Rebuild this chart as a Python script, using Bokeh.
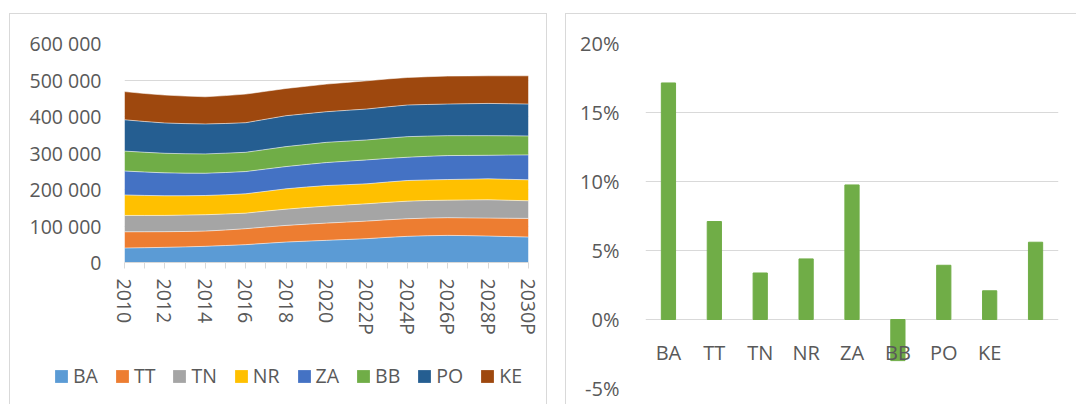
from bokeh.plotting import figure
from bokeh.models import (ColumnDataSource, Range1d, FixedTicker, Legend, LegendItem,
                          NumeralTickFormatter)
from bokeh.core.properties import value
from bokeh.embed import file_html
from bokeh.resources import INLINE

# ---------------- data ----------------
years = ["2010", "2011", "2012", "2013", "2014", "2015", "2016", "2017", "2018", "2019",
         "2020", "2021", "2022P", "2023P", "2024P", "2025P", "2026P", "2027P", "2028P",
         "2029P", "2030P"]
regions = ["BA", "TT", "TN", "NR", "ZA", "BB", "PO", "KE"]

BA = [39600, 40500, 41500, 42800, 44300, 46500, 48900, 52500, 56000, 58500, 60700,
      63000, 65300, 68800, 71600, 73300, 74300, 73600, 72400, 71000, 69700]
TT = [44500, 43700, 42900, 42200, 41700, 42500, 43700, 44700, 45600, 46500, 47200,
      47700, 48100, 48100, 48300, 48300, 48400, 48600, 49200, 50200, 51100]
TN = [44800, 44700, 44600, 44800, 44900, 43800, 42600, 43600, 44600, 45500, 46500,
      46900, 47500, 47800, 48100, 48200, 48100, 49200, 50200, 49300, 48300]
NR = [56200, 54900, 53800, 53100, 52700, 52700, 53000, 54200, 55700, 56200, 56500,
      55600, 54700, 55600, 56600, 56400, 56500, 56900, 57400, 57400, 57400]
ZA = [65500, 64100, 62800, 61900, 60900, 61000, 61000, 61000, 60900, 61800, 62900,
      64300, 65500, 64700, 63700, 64700, 65600, 65100, 64500, 66400, 68300]
BB = [54600, 54100, 53600, 53200, 53000, 53000, 52700, 53700, 54700, 55000, 55400,
      55000, 54700, 55500, 56500, 55400, 54600, 54100, 53800, 52800, 51900]
PO = [85800, 84300, 83000, 82500, 82000, 81400, 81100, 82900, 84700, 84200, 83900,
      84300, 84700, 85800, 86600, 86700, 86600, 87500, 88300, 87900, 87400]
KE = [77200, 76700, 76500, 75500, 74500, 76400, 78400, 76500, 74600, 75100, 75700,
      76500, 77300, 76500, 75400, 76000, 76600, 76200, 75700, 76500, 77400]

y_ticks = [0, 100000, 200000, 300000, 400000, 500000, 600000]

growth_labels = ["BA", "TT", "TN", "NR", "ZA", "BB", "PO", "KE", ""]
growth = [0.1714, 0.0710, 0.0337, 0.0439, 0.0975, -0.0298, 0.0393, 0.0208, 0.0560]
pct_ticks = [-0.05, 0.0, 0.05, 0.10, 0.15, 0.20]

# ---------------- styles ----------------
colors = ["#5B9BD5", "#ED7D31", "#A5A5A5", "#FFC000", "#4472C4", "#70AD47", "#255E91", "#9E480E"]
FONT = "Open Sans"
TXT = "#595959"
GRID = "#D9D9D9"
BORDER = "1px solid #D9D9D9"

# ---------------- left: stacked area ----------------
series = {"BA": BA, "TT": TT, "TN": TN, "NR": NR, "ZA": ZA, "BB": BB, "PO": PO, "KE": KE}
data = {"x": list(range(len(years)))}
data.update(series)
src = ColumnDataSource(data)

p1 = figure(width=538, height=391, output_backend="svg", toolbar_location=None,
            x_range=Range1d(0, len(years) - 1), y_range=Range1d(0, 600000),
            min_border_left=114, min_border_right=20, min_border_top=29,
            min_border_bottom=143)
p1.styles = {"position": "absolute", "left": "9px", "top": "13px",
             "border-top": BORDER, "border-left": BORDER, "border-right": BORDER}
p1.outline_line_color = None

p1.varea_stack(stackers=regions, x="x", color=colors, source=src)
p1.vline_stack(stackers=regions, x="x", color="white", line_alpha=0.55, line_width=1,
               source=src)

p1.xgrid.grid_line_color = None
p1.ygrid.grid_line_color = GRID
p1.ygrid.grid_line_width = 1
p1.ygrid.ticker = FixedTicker(ticks=y_ticks)

p1.yaxis.ticker = FixedTicker(ticks=y_ticks)
p1.yaxis.major_label_overrides = {t: ("{:,}".format(t).replace(",", " ")) for t in y_ticks}
p1.yaxis.axis_line_color = None
p1.yaxis.major_tick_line_color = None
p1.yaxis.minor_tick_line_color = None
p1.yaxis.major_label_standoff = 17
p1.yaxis.major_label_text_font = FONT
p1.yaxis.major_label_text_font_size = "19.5px"
p1.yaxis.major_label_text_color = TXT

p1.xaxis.ticker = FixedTicker(ticks=list(range(len(years))))
p1.xaxis.major_label_overrides = {i: (y if i % 2 == 0 else "") for i, y in enumerate(years)}
p1.xaxis.major_label_orientation = "vertical"
p1.xaxis.axis_line_color = GRID
p1.xaxis.major_tick_line_color = GRID
p1.xaxis.major_tick_in = 0
p1.xaxis.major_tick_out = 6
p1.xaxis.minor_tick_line_color = None
p1.xaxis.major_label_standoff = 10
p1.xaxis.major_label_text_font = FONT
p1.xaxis.major_label_text_font_size = "19.5px"
p1.xaxis.major_label_text_color = TXT

# ---------------- legend strip (legend-only figure, zero-area renderers) ----------------
p3 = figure(width=482, height=28, output_backend="svg", toolbar_location=None,
            x_range=Range1d(0, 1), y_range=Range1d(0, 1),
            min_border_left=0, min_border_right=0, min_border_top=0, min_border_bottom=0)
p3.styles = {"position": "absolute", "left": "53px", "top": "362px"}
p3.axis.visible = False
p3.grid.grid_line_color = None
p3.outline_line_color = None
p3.background_fill_alpha = 0
p3.border_fill_alpha = 0
items = []
for name, col in zip(regions, colors):
    r = p3.varea(x=[0], y1=[0], y2=[0], color=col)
    items.append(LegendItem(label=name, renderers=[r]))
legend = Legend(items=items, location="top_left", orientation="horizontal")
legend.glyph_width = 16
legend.glyph_height = 16
legend.label_standoff = 4
legend.spacing = 16
legend.padding = 0
legend.margin = 0
legend.border_line_color = None
legend.background_fill_alpha = 0
legend.label_text_font = FONT
legend.label_text_font_size = "19.5px"
legend.label_text_color = TXT
p3.add_layout(legend)

# ---------------- right: growth bars ----------------
idx = list(range(len(growth)))
bsrc = ColumnDataSource({"x": idx, "g": growth, "lab": growth_labels})

p2 = figure(width=511, height=391, output_backend="svg", toolbar_location=None,
            x_range=Range1d(-0.5, len(growth) - 0.5), y_range=Range1d(-0.05, 0.20),
            min_border_left=79, min_border_right=19, min_border_top=29,
            min_border_bottom=17)
p2.styles = {"position": "absolute", "left": "565px", "top": "13px",
             "border-top": BORDER, "border-left": BORDER}
p2.outline_line_color = None

p2.vbar(x="x", top="g", width=0.31, color="#70AD47", source=bsrc)
p2.text(x="x", y=0, text="lab", source=bsrc, text_align="center", text_baseline="middle",
        y_offset=33, text_font=value(FONT), text_font_size="20px", text_color=TXT)

p2.xaxis.visible = False
p2.xgrid.grid_line_color = None
p2.ygrid.grid_line_color = GRID
p2.ygrid.ticker = FixedTicker(ticks=pct_ticks)
p2.yaxis.ticker = FixedTicker(ticks=pct_ticks)
p2.yaxis.formatter = NumeralTickFormatter(format="0%")
p2.yaxis.axis_line_color = None
p2.yaxis.major_tick_line_color = None
p2.yaxis.minor_tick_line_color = None
p2.yaxis.major_label_standoff = 20
p2.yaxis.major_label_text_font = FONT
p2.yaxis.major_label_text_font_size = "20px"
p2.yaxis.major_label_text_color = TXT

open("out.html", "w").write(file_html([p1, p2, p3], INLINE))
